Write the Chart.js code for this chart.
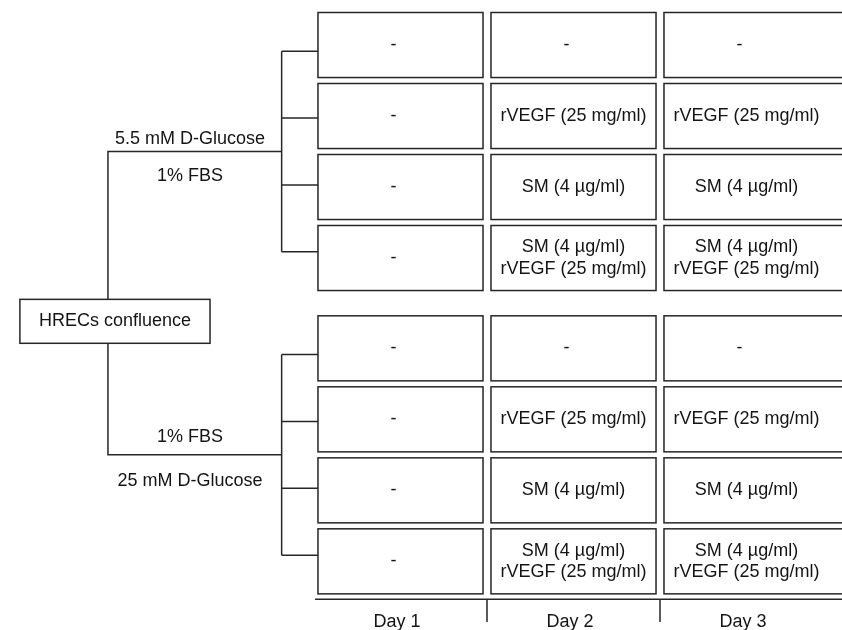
<!DOCTYPE html>
<html>
<head>
<meta charset="utf-8">
<script src="https://cdn.jsdelivr.net/npm/chart.js@4/dist/chart.umd.min.js"></script>
<style>
  html, body { margin: 0; padding: 0; background: #fff; }
  canvas { display: block; }
</style>
</head>
<body>
<canvas id="design" width="842" height="630"></canvas>
<script>
// data
const days = ["Day 1", "Day 2", "Day 3"];
const rootLabel = "HRECs confluence";
const topGroupLabels = ["5.5 mM D-Glucose", "1% FBS"];
const bottomGroupLabels = ["1% FBS", "25 mM D-Glucose"];
const day1Cells = ["-", "-", "-", "-"];
const day2Cells = ["-", "rVEGF (25 mg/ml)", "SM (4 µg/ml)", "SM (4 µg/ml)\nrVEGF (25 mg/ml)"];
const day3Cells = ["-", "rVEGF (25 mg/ml)", "SM (4 µg/ml)", "SM (4 µg/ml)\nrVEGF (25 mg/ml)"];
const cellsByDay = [day1Cells, day2Cells, day3Cells];

// layout (x in day units, y in row units)
const GROUP_GAP = 0.272;
const CELL_HALF_W = 0.477;
const CELL_HALF_H = 0.458;
const STUB_SPREAD = 0.942;
const BRACKET_X = 0.313;
const TRUNK_X = -0.691;
const ROOT_BOX = { x1: -1.2, x2: -0.101, y1: 4.582, y2: 5.201 };
const LABEL_X = -0.217;
const AXIS_Y = 8.807;
const LINE_COLOR = "#262626";
const TEXT_COLOR = "#141414";
const FONT = "18px 'Liberation Sans', Arial, sans-serif";

const rowY = (g, r) => 1 + g * 4 + r + g * GROUP_GAP;
const groupMid = (g) => rowY(g, 1.5);
const stubY = (g, r) => groupMid(g) + (r - 1.5) * STUB_SPREAD;

// tree lines
const seg = (points) => ({
  data: points.map(([x, y]) => ({ x, y })),
  showLine: true,
  borderColor: LINE_COLOR,
  borderWidth: 1.5,
  pointRadius: 0,
  tension: 0,
});

const treeSets = [];
[0, 1].forEach((g) => {
  treeSets.push(seg([[BRACKET_X, stubY(g, 0)], [BRACKET_X, stubY(g, 3)]]));
  for (let r = 0; r < 4; r++) {
    treeSets.push(seg([[BRACKET_X, stubY(g, r)], [1 - CELL_HALF_W, stubY(g, r)]]));
  }
  const rootEdge = g === 0 ? ROOT_BOX.y1 : ROOT_BOX.y2;
  treeSets.push(seg([[TRUNK_X, rootEdge], [TRUNK_X, groupMid(g)], [BRACKET_X, groupMid(g)]]));
});

// boxes, texts and day axis
const diagramPlugin = {
  id: "diagram",
  afterDatasetsDraw(chart) {
    const { ctx } = chart;
    const sx = chart.scales.x;
    const sy = chart.scales.y;
    const px = (v) => sx.getPixelForValue(v);
    const py = (v) => sy.getPixelForValue(v);

    const box = (x1, x2, y1, y2) => {
      ctx.strokeRect(px(x1), py(y1), px(x2) - px(x1), py(y2) - py(y1));
    };
    const text = (str, x, y) => {
      const lines = str.split("\n");
      const lh = 21.5;
      lines.forEach((ln, i) => {
        ctx.fillText(ln, px(x), py(y) + (i - (lines.length - 1) / 2) * lh);
      });
    };

    ctx.save();
    ctx.strokeStyle = LINE_COLOR;
    ctx.lineWidth = 1.5;
    ctx.fillStyle = TEXT_COLOR;
    ctx.font = FONT;
    ctx.textAlign = "center";
    ctx.textBaseline = "middle";

    // cells (the last column runs past the right edge)
    [0, 1].forEach((g) => {
      cellsByDay.forEach((cells, d) => {
        cells.forEach((label, r) => {
          const cx = d + 1;
          const cy = rowY(g, r);
          const right = d === cellsByDay.length - 1 ? sx.max + 0.05 : cx + CELL_HALF_W;
          box(cx - CELL_HALF_W, right, cy - CELL_HALF_H, cy + CELL_HALF_H);
          text(label, label === "-" ? cx - 0.04 : cx, cy);
        });
      });
    });

    // root
    box(ROOT_BOX.x1, ROOT_BOX.x2, ROOT_BOX.y1, ROOT_BOX.y2);
    text(rootLabel, (ROOT_BOX.x1 + ROOT_BOX.x2) / 2, (ROOT_BOX.y1 + ROOT_BOX.y2) / 2);

    // branch labels
    text(topGroupLabels[0], LABEL_X, groupMid(0) - 0.17);
    text(topGroupLabels[1], LABEL_X, groupMid(0) + 0.35);
    text(bottomGroupLabels[0], LABEL_X, groupMid(1) - 0.25);
    text(bottomGroupLabels[1], LABEL_X, groupMid(1) + 0.37);

    // day axis
    ctx.beginPath();
    ctx.moveTo(px(1 - CELL_HALF_W - 0.017), py(AXIS_Y));
    ctx.lineTo(px(sx.max), py(AXIS_Y));
    for (let d = 1; d < days.length; d++) {
      ctx.moveTo(px(d + 0.5), py(AXIS_Y));
      ctx.lineTo(px(d + 0.5), py(AXIS_Y + 0.32));
    }
    ctx.stroke();
    days.forEach((day, i) => text(day, i + 1 - 0.02, AXIS_Y + 0.32));
    ctx.restore();
  },
};

const config = {
  type: "scatter",
  data: { datasets: treeSets },
  options: {
    responsive: false,
    animation: false,
    layout: { padding: 0 },
    plugins: { legend: { display: false }, tooltip: { enabled: false } },
    scales: {
      x: { type: "linear", min: -1.315, max: 3.552, display: false },
      y: { type: "linear", min: 0.366, max: 9.239, reverse: true, display: false },
    },
  },
  plugins: [diagramPlugin],
};

const myChart = new Chart(document.getElementById("design"), config);
</script>
</body>
</html>
